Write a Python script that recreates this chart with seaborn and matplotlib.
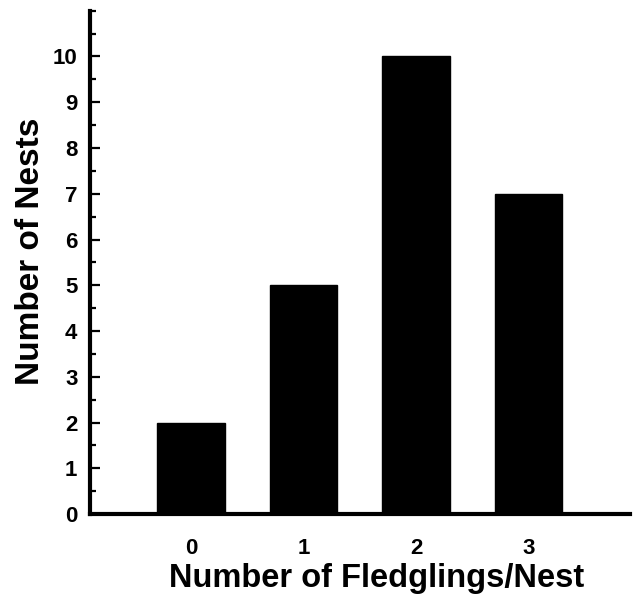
import matplotlib
matplotlib.use("Agg")
import matplotlib.pyplot as plt
import seaborn as sns
import pandas as pd
from matplotlib.ticker import MultipleLocator

fledglings = ["0", "1", "2", "3"]
nests = [2, 5, 10, 7]

df = pd.DataFrame({"fledglings": fledglings, "nests": nests})

sns.set_style("ticks")
plt.rcParams["font.family"] = ["Liberation Sans", "DejaVu Sans"]
plt.rcParams["font.weight"] = "bold"
plt.rcParams["text.color"] = "black"
plt.rcParams["axes.labelcolor"] = "black"

fig = plt.figure(figsize=(6.36, 5.95), dpi=100)
ax = fig.add_axes([0.1415, 0.136, 0.849, 0.846])

sns.barplot(data=df, x="fledglings", y="nests", color="black",
            saturation=1, width=0.6, ax=ax)
for p in ax.patches:
    p.set_edgecolor("black")

ax.set_xlim(-0.9, 3.9)
ax.set_ylim(0, 11)
ax.yaxis.set_major_locator(MultipleLocator(1))
ax.yaxis.set_minor_locator(MultipleLocator(0.5))
ax.set_yticks(range(0, 11))

sns.despine(ax=ax)
for s in ("left", "bottom"):
    ax.spines[s].set_linewidth(3)
    ax.spines[s].set_color("black")

ax.tick_params(axis="y", which="major", direction="in", length=7, width=1.6,
               pad=9, labelsize=16, colors="black")
ax.tick_params(axis="y", which="minor", direction="in", length=4, width=1.6,
               colors="black")
ax.tick_params(axis="x", length=0, pad=17, labelsize=16, colors="black")
for lbl in ax.get_xticklabels() + ax.get_yticklabels():
    lbl.set_fontweight("bold")

# labels in the reference sit a bit off the axes centre
ax.set_xlabel("Number of Fledglings/Nest", fontsize=23.5, fontweight="bold",
              labelpad=3, x=0.53)
ax.set_ylabel("Number of Nests", fontsize=24, fontweight="bold",
              labelpad=5, y=0.523)

fig.savefig("out.png", dpi=100)
